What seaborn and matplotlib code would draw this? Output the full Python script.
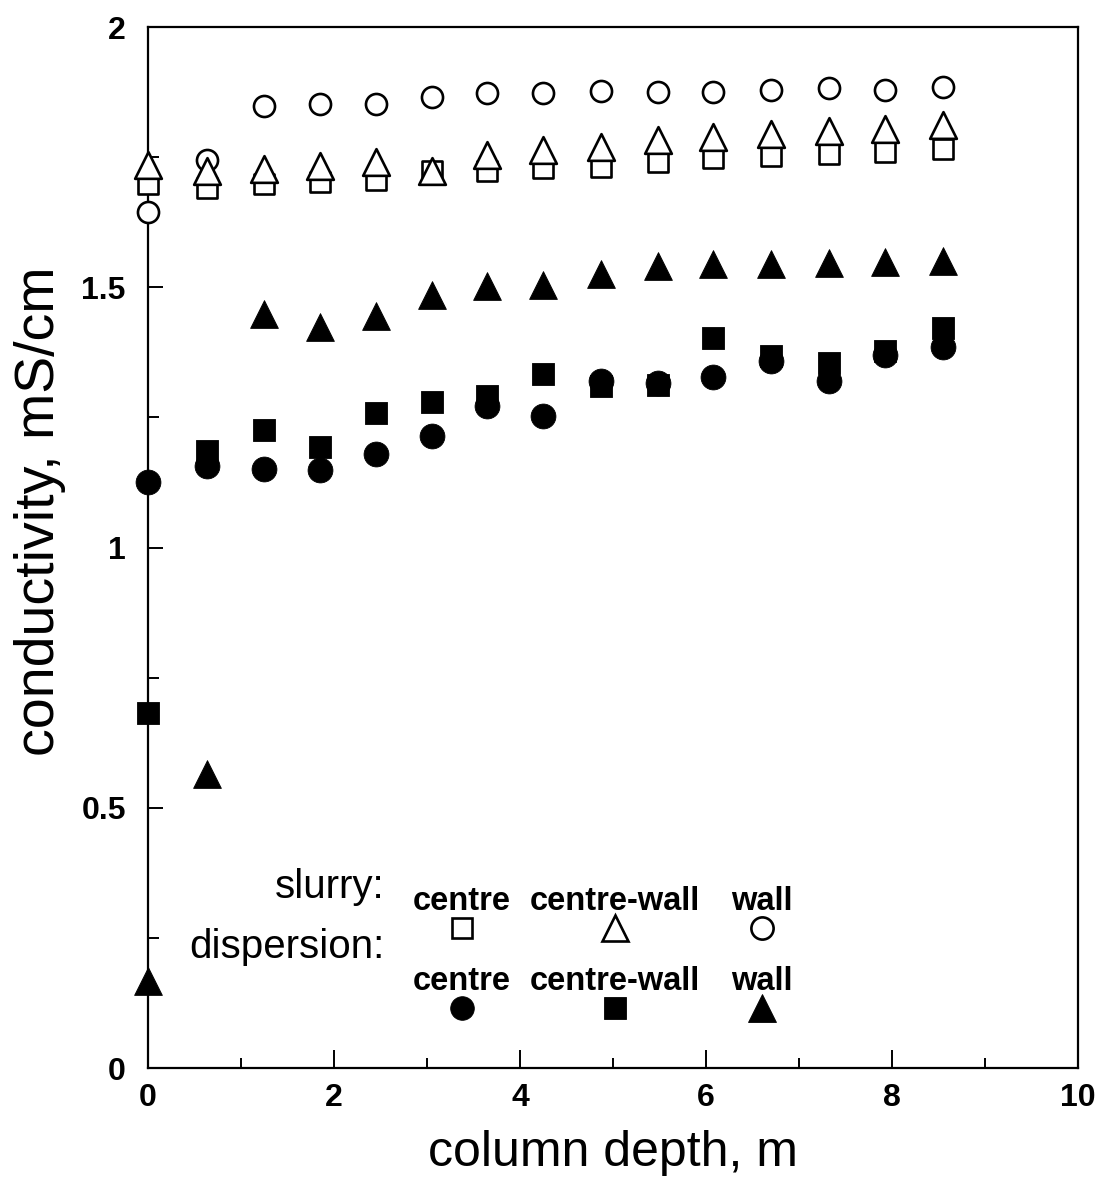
import numpy as np
import pandas as pd
import matplotlib
matplotlib.use("Agg")
import matplotlib.pyplot as plt
import seaborn as sns

# column depth (m) of each sampling port
depth = [0, 0.63, 1.25, 1.85, 2.45, 3.05, 3.65, 4.25, 4.87, 5.48, 6.08, 6.7, 7.32, 7.93, 8.55]

# conductivity (mS/cm), slurry
slurry_centre = [1.698, 1.691, 1.698, 1.703, 1.706, 1.723, 1.723, 1.729, 1.731,
                 1.740, 1.749, 1.753, 1.756, 1.760, 1.766]
slurry_centre_wall = [1.735, 1.723, 1.727, 1.733, 1.740, 1.723, 1.754, 1.764, 1.769,
                      1.783, 1.789, 1.794, 1.800, 1.804, 1.812]
slurry_wall = [1.645, 1.745, 1.848, 1.852, 1.852, 1.866, 1.873, 1.873, 1.877,
               1.875, 1.876, 1.879, 1.882, 1.879, 1.884]

# conductivity (mS/cm), dispersion
disp_centre = [1.126, 1.157, 1.151, 1.149, 1.180, 1.214, 1.272, 1.253, 1.320,
               1.316, 1.328, 1.358, 1.320, 1.370, 1.385]
disp_centre_wall = [0.682, 1.185, 1.226, 1.193, 1.258, 1.280, 1.291, 1.333, 1.310,
                    1.312, 1.403, 1.368, 1.354, 1.378, 1.422]
disp_wall = [0.167, 0.565, 1.448, 1.424, 1.444, 1.486, 1.502, 1.505, 1.525,
             1.541, 1.544, 1.545, 1.547, 1.548, 1.551]

positions = ["centre", "centre-wall", "wall"]
row_titles = ["slurry:", "dispersion:"]

sns.set_style("ticks")
plt.rcParams["font.family"] = ["Liberation Sans", "DejaVu Sans"]
plt.rcParams.update({
    "text.color": "black",
    "axes.labelcolor": "black",
    "xtick.color": "black",
    "ytick.color": "black",
    "axes.edgecolor": "black",
})

fig = plt.figure(figsize=(11.01, 11.82), dpi=100)
ax = fig.add_axes([0.1344, 0.0964, 0.8447, 0.8807])

# (values, marker, filled, size)
series = [
    (slurry_wall, "o", False, 230),
    (slurry_centre, "s", False, 215),
    (slurry_centre_wall, "^", False, 370),
    (disp_wall, "^", True, 400),
    (disp_centre, "o", True, 320),
    (disp_centre_wall, "s", True, 270),
]

for vals, mk, filled, size in series:
    df = pd.DataFrame({"depth": depth, "cond": vals})
    sns.scatterplot(
        data=df, x="depth", y="cond", ax=ax, marker=mk, s=size,
        facecolor="black" if filled else "white",
        edgecolor="black", linewidth=0.6 if filled else 1.9,
        legend=False, zorder=3, clip_on=False,
    )

ax.set_xlim(0, 10)
ax.set_ylim(0, 2)
ax.set_xticks([0, 2, 4, 6, 8, 10])
ax.set_xticks([1, 3, 5, 7, 9], minor=True)
ax.set_yticks([0, 0.5, 1, 1.5, 2])
ax.set_yticks([0.25, 0.75, 1.25, 1.75], minor=True)
ax.set_xticklabels(["0", "2", "4", "6", "8", "10"])
ax.set_yticklabels(["0", "0.5", "1", "1.5", "2"])

for side in ["left", "right", "top", "bottom"]:
    ax.spines[side].set_visible(True)
    ax.spines[side].set_linewidth(1.6)
    ax.spines[side].set_color("black")

ax.tick_params(axis="both", which="both", direction="in", top=False, right=False,
               width=1.4, color="black", labelcolor="black")
ax.tick_params(axis="x", which="major", length=13, pad=11)
ax.tick_params(axis="x", which="minor", length=7)
ax.tick_params(axis="y", which="major", length=11, pad=16)
ax.tick_params(axis="y", which="minor", length=8)
for lab in ax.get_xticklabels() + ax.get_yticklabels():
    lab.set_fontsize(23)
    lab.set_fontweight("bold")

ax.set_xlabel("column depth, m", fontsize=36, labelpad=12, color="black")
ax.set_ylabel("conductivity, mS/cm", fontsize=40, color="black")
ax.yaxis.set_label_coords(-0.088, 0.535)
ax.grid(False)

# key block inside the axes
col_x = [0.3376, 0.502, 0.660]
key_rows = [
    # title, title baseline, label baseline, marker centre, markers, filled
    ("slurry:", 0.163, 0.152, 0.1345, ["s", "^", "o"], False),
    ("dispersion:", 0.1057, 0.075, 0.0576, ["o", "s", "^"], True),
]
key_sizes = {"o": 16, "s": 15, "^": 19}
for title, ty, ly, my, mks, filled in key_rows:
    ax.text(0.254, ty, title, transform=ax.transAxes, ha="right", va="baseline",
            fontsize=29, color="black")
    for cx, name, mk in zip(col_x, positions, mks):
        ax.text(cx, ly, name, transform=ax.transAxes, ha="center", va="baseline",
                fontsize=23.5, fontweight="bold", color="black")
        ax.plot([cx], [my], transform=ax.transAxes, marker=mk, linestyle="none",
                markersize=key_sizes[mk] + (1 if filled else 0),
                markerfacecolor="black" if filled else "white",
                markeredgecolor="black", markeredgewidth=0.6 if filled else 1.9)

fig.savefig("out.png", dpi=100, facecolor="white")
